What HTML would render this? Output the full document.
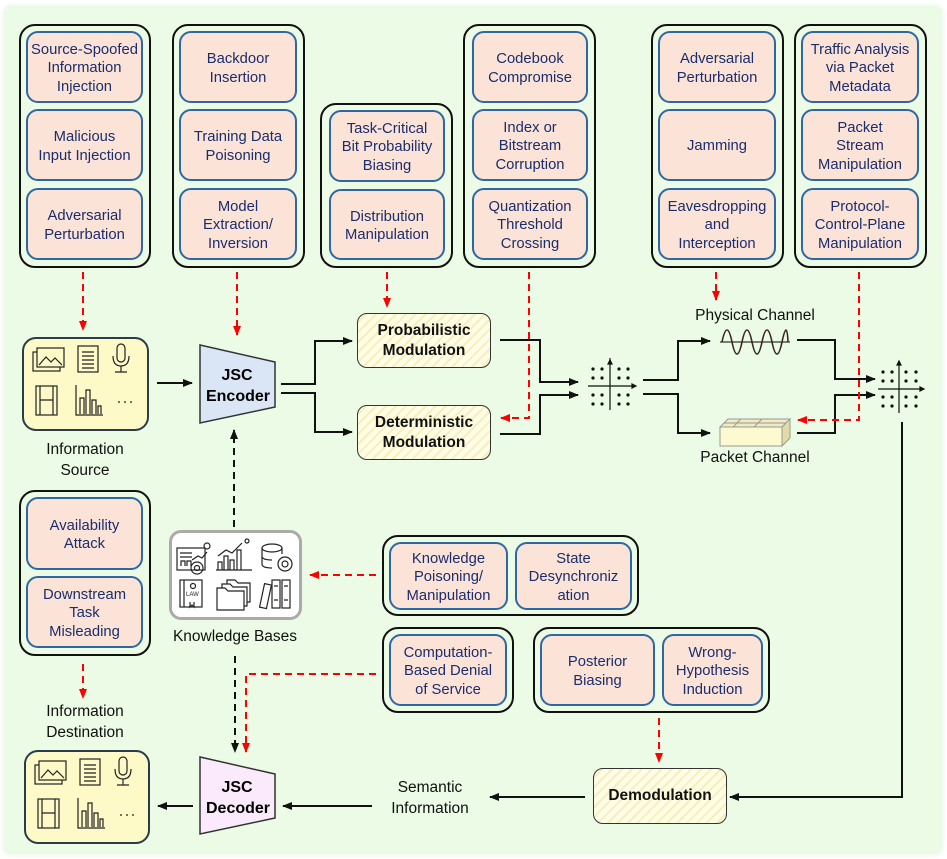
<!DOCTYPE html>
<html><head><meta charset="utf-8"><style>
body{margin:0;width:947px;height:859px;background:#fff;position:relative;overflow:hidden;font-family:"Liberation Sans",sans-serif}
.bg{position:absolute;left:4px;top:6px;width:938px;height:848px;background:#ebfbe5;border-radius:6px;box-shadow:0 0 6px #e4f2de}
.o{position:absolute;border:2.5px solid #111;border-radius:16px;box-sizing:border-box}
.i{position:absolute;border:2.5px solid #2f67a0;border-radius:12px;background:#fbe3d8;box-sizing:border-box;display:flex;align-items:center;justify-content:center;text-align:center;color:#1b2d6b;font-size:14.8px;line-height:18.5px;padding-top:3px}
.m{position:absolute;border:1.5px solid #333;border-radius:10px;box-sizing:border-box;display:flex;align-items:center;justify-content:center;text-align:center;font-weight:bold;font-size:15.5px;line-height:20px;color:#111;background:repeating-linear-gradient(135deg,#fffde8 0 5px,#f6f0b8 5px 7px)}
.l{position:absolute;text-align:center;font-size:15.5px;line-height:20.5px;color:#111}
.y{position:absolute;border:2px solid #2a3b4a;border-radius:14px;background:#fdfac8;box-sizing:border-box}
svg{position:absolute;left:0;top:0}
</style></head><body>
<div class="bg"></div>

<div class="o" style="left:19px;top:24px;width:132px;height:244px"></div>
<div class="i" style="left:26px;top:31px;width:117px;height:72px">Source-Spoofed<br>Information<br>Injection</div>
<div class="i" style="left:26px;top:109px;width:117px;height:72px">Malicious<br>Input Injection</div>
<div class="i" style="left:26px;top:188px;width:117px;height:72px">Adversarial<br>Perturbation</div>

<div class="o" style="left:172px;top:24px;width:133px;height:244px"></div>
<div class="i" style="left:179px;top:31px;width:118px;height:72px">Backdoor<br>Insertion</div>
<div class="i" style="left:179px;top:109px;width:118px;height:72px">Training Data<br>Poisoning</div>
<div class="i" style="left:179px;top:188px;width:118px;height:72px">Model<br>Extraction/<br>Inversion</div>

<div class="o" style="left:320px;top:103px;width:133px;height:165px"></div>
<div class="i" style="left:329px;top:110px;width:116px;height:72px">Task-Critical<br>Bit Probability<br>Biasing</div>
<div class="i" style="left:329px;top:189px;width:116px;height:71px">Distribution<br>Manipulation</div>

<div class="o" style="left:463px;top:24px;width:133px;height:244px"></div>
<div class="i" style="left:472px;top:31px;width:116px;height:72px">Codebook<br>Compromise</div>
<div class="i" style="left:472px;top:109px;width:116px;height:72px">Index or<br>Bitstream<br>Corruption</div>
<div class="i" style="left:472px;top:188px;width:116px;height:72px">Quantization<br>Threshold<br>Crossing</div>

<div class="o" style="left:651px;top:24px;width:133px;height:244px"></div>
<div class="i" style="left:658px;top:31px;width:118px;height:72px">Adversarial<br>Perturbation</div>
<div class="i" style="left:658px;top:109px;width:118px;height:72px">Jamming</div>
<div class="i" style="left:658px;top:188px;width:118px;height:72px">Eavesdropping<br>and<br>Interception</div>

<div class="o" style="left:794px;top:24px;width:133px;height:244px"></div>
<div class="i" style="left:801px;top:31px;width:118px;height:72px">Traffic Analysis<br>via Packet<br>Metadata</div>
<div class="i" style="left:801px;top:109px;width:118px;height:72px">Packet<br>Stream<br>Manipulation</div>
<div class="i" style="left:801px;top:188px;width:118px;height:72px">Protocol-<br>Control-Plane<br>Manipulation</div>

<div class="o" style="left:19px;top:490px;width:132px;height:166px"></div>
<div class="i" style="left:26px;top:497px;width:117px;height:73px">Availability<br>Attack</div>
<div class="i" style="left:26px;top:576px;width:117px;height:72px">Downstream<br>Task<br>Misleading</div>

<div class="o" style="left:382px;top:535px;width:257px;height:81px"></div>
<div class="i" style="left:389px;top:542px;width:119px;height:68px">Knowledge<br>Poisoning/<br>Manipulation</div>
<div class="i" style="left:515px;top:542px;width:117px;height:68px">State<br>Desynchroniz<br>ation</div>

<div class="o" style="left:382px;top:627px;width:132px;height:86px"></div>
<div class="i" style="left:389px;top:634px;width:118px;height:72px">Computation-<br>Based Denial<br>of Service</div>

<div class="o" style="left:533px;top:627px;width:237px;height:86px"></div>
<div class="i" style="left:540px;top:634px;width:115px;height:72px">Posterior<br>Biasing</div>
<div class="i" style="left:662px;top:634px;width:101px;height:72px">Wrong-<br>Hypothesis<br>Induction</div>

<div class="y" style="left:22px;top:337px;width:127px;height:94px"></div>
<div class="y" style="left:24px;top:750px;width:126px;height:94px"></div>
<div style="position:absolute;left:169px;top:530px;width:133px;height:90px;border:3px solid #aaa;border-radius:12px;background:#fff;box-sizing:border-box"></div>

<div class="m" style="left:357px;top:313px;width:134px;height:55px">Probabilistic<br>Modulation</div>
<div class="m" style="left:357px;top:405px;width:134px;height:55px">Deterministic<br>Modulation</div>
<div class="m" style="left:593px;top:768px;width:134px;height:56px">Demodulation</div>

<div class="l" style="left:20px;top:440px;width:130px">Information<br>Source</div>
<div class="l" style="left:20px;top:702px;width:130px">Information<br>Destination</div>
<div class="l" style="left:150px;top:627px;width:170px">Knowledge Bases</div>
<div class="l" style="left:670px;top:306px;width:170px">Physical Channel</div>
<div class="l" style="left:670px;top:448px;width:170px">Packet Channel</div>
<div class="l" style="left:365px;top:778px;width:130px">Semantic<br>Information</div>

<svg width="947" height="859" viewBox="0 0 947 859">
<defs>
<marker id="a" markerWidth="10" markerHeight="8" refX="9" refY="4" orient="auto" markerUnits="userSpaceOnUse"><path d="M0,0L10,4L0,8z" fill="#111"/></marker>
<marker id="r" markerWidth="10" markerHeight="8" refX="9" refY="4" orient="auto" markerUnits="userSpaceOnUse"><path d="M0,0L10,4L0,8z" fill="#f00"/></marker>
</defs>
<polygon points="200,345 275,362 275,407 200,423" fill="#dae6f6" stroke="#333" stroke-width="1.5"/>
<text x="237" y="380" text-anchor="middle" font-weight="bold" font-size="16" font-family="Liberation Sans">JSC</text>
<text x="238" y="401" text-anchor="middle" font-weight="bold" font-size="16" font-family="Liberation Sans">Encoder</text>
<polygon points="200,757 275,774 275,818 200,834" fill="#fbeafb" stroke="#333" stroke-width="1.5"/>
<text x="237" y="792" text-anchor="middle" font-weight="bold" font-size="16" font-family="Liberation Sans">JSC</text>
<text x="238" y="813" text-anchor="middle" font-weight="bold" font-size="16" font-family="Liberation Sans">Decoder</text>

<g fill="none" stroke="#111" stroke-width="2">
<path d="M157,383H192" marker-end="url(#a)"/>
<path d="M281,384H315V341H352" marker-end="url(#a)"/>
<path d="M281,393H315V432H352" marker-end="url(#a)"/>
<path d="M500,340H540V382H578" marker-end="url(#a)"/>
<path d="M500,434H540V395H578" marker-end="url(#a)"/>
<path d="M643,380H678V341H710" marker-end="url(#a)"/>
<path d="M643,394H678V433H710" marker-end="url(#a)"/>
<path d="M797,340H835V379H875" marker-end="url(#a)"/>
<path d="M797,433H835V395H875" marker-end="url(#a)"/>
<path d="M902,422V797H730" marker-end="url(#a)"/>
<path d="M585,797H490" marker-end="url(#a)"/>
<path d="M372,806H283" marker-end="url(#a)"/>
<path d="M193,806H158" marker-end="url(#a)"/>
</g>
<g fill="none" stroke="#111" stroke-width="2" stroke-dasharray="7,5">
<path d="M234,527V430" marker-end="url(#a)"/>
<path d="M235,656V752" marker-end="url(#a)"/>
</g>
<g fill="none" stroke="#f00" stroke-width="2" stroke-dasharray="7,5">
<path d="M83,272V330" marker-end="url(#r)"/>
<path d="M237,272V335" marker-end="url(#r)"/>
<path d="M387,272V307" marker-end="url(#r)"/>
<path d="M529,272V418H501" marker-end="url(#r)"/>
<path d="M716,272V300" marker-end="url(#r)"/>
<path d="M859,272V420H798" marker-end="url(#r)"/>
<path d="M83,664V698" marker-end="url(#r)"/>
<path d="M376,575H310" marker-end="url(#r)"/>
<path d="M376,674H246V752" marker-end="url(#r)"/>
<path d="M659,718V762" marker-end="url(#r)"/>
</g>
<g stroke="#111" stroke-width="1.2" fill="#111">
<path d="M588,386H635M610,358V410"/>
<path d="M610,360l-2,4h4z"/><path d="M636,386l-4,-2v4z"/>
<g stroke="none">
<circle cx="593" cy="369" r="1.6"/><circle cx="602" cy="369" r="1.6"/><circle cx="619" cy="369" r="1.6"/><circle cx="628" cy="369" r="1.6"/>
<circle cx="593" cy="378" r="1.6"/><circle cx="602" cy="378" r="1.6"/><circle cx="619" cy="378" r="1.6"/><circle cx="628" cy="378" r="1.6"/>
<circle cx="593" cy="395" r="1.6"/><circle cx="602" cy="395" r="1.6"/><circle cx="619" cy="395" r="1.6"/><circle cx="628" cy="395" r="1.6"/>
<circle cx="593" cy="404" r="1.6"/><circle cx="602" cy="404" r="1.6"/><circle cx="619" cy="404" r="1.6"/><circle cx="628" cy="404" r="1.6"/>
</g>
<path d="M878,389H923M899,361V413" fill="none"/>
<path d="M899,361l-2,4h4z"/><path d="M924,389l-4,-2v4z"/>
<g stroke="none">
<circle cx="883" cy="372" r="1.6"/><circle cx="892" cy="372" r="1.6"/><circle cx="906" cy="372" r="1.6"/><circle cx="916" cy="372" r="1.6"/>
<circle cx="883" cy="381" r="1.6"/><circle cx="892" cy="381" r="1.6"/><circle cx="906" cy="381" r="1.6"/><circle cx="916" cy="381" r="1.6"/>
<circle cx="883" cy="397" r="1.6"/><circle cx="892" cy="397" r="1.6"/><circle cx="906" cy="397" r="1.6"/><circle cx="916" cy="397" r="1.6"/>
<circle cx="883" cy="406" r="1.6"/><circle cx="892" cy="406" r="1.6"/><circle cx="906" cy="406" r="1.6"/><circle cx="916" cy="406" r="1.6"/>
</g>
</g>
<path d="M720,342H790" stroke="#333" stroke-width="1.3"/>
<path d="M722,342 Q727,318 732,342 T742,342 T752,342 T762,342 T772,342 T782,342 T788,342" fill="none" stroke="#3a2a20" stroke-width="1.6"/>
<polygon points="720,427 728,419 790,419 782,427" fill="#f0ecc0" stroke="#999"/>
<polygon points="782,427 790,419 790,438 782,446" fill="#e0dca8" stroke="#999"/>
<rect x="720" y="427" width="62" height="19" fill="#fdfad0" stroke="#999"/>
<path d="M741,419L733,427M762,419L754,427M724,423H786" stroke="#999" fill="none"/>
<g id="ic" fill="none" stroke="#222" stroke-width="1.2">
<rect x="33" y="352" width="27" height="19"/><rect x="37" y="348" width="27" height="19" fill="#fdfac8"/>
<path d="M39,365l7,-8 5,5 4,-4 7,7"/><rect x="78" y="346" width="20" height="26"/>
<path d="M82,352h12M82,356h12M82,360h12M82,364h12M82,368h12"/>
<rect x="117" y="344" width="8" height="18" rx="4"/><path d="M113,356q0,10 8,10q8,0 8,-10M121,366v6M115,372h12"/>
<rect x="36" y="386" width="21" height="29"/><path d="M40,386v29M53,386v29M40,400h13"/>
<path d="M76,385v30h27M80,414v-16h4v16M86,414v-24h4v24M92,414v-14h4v14M98,414v-8h3v8"/>
<path d="M118,402h2M124,402h2M130,402h2"/>
</g>
<use href="#ic" x="2" y="413"/>
<g fill="none" stroke="#222" stroke-width="1.2">
<rect x="177" y="548" width="28" height="22"/><path d="M180,553h12M180,557h12M181,566v-5h4v5M187,566v-5h4v5"/><circle cx="197" cy="568" r="6"/><circle cx="197" cy="568" r="2.5"/><path d="M192,560l6,-4 4,2 5,-6"/><circle cx="207" cy="546" r="3"/>
<path d="M218,570v-8h4v8M224,570v-14h4v14M230,570v-10h4v10M237,570v-20h4v20M216,570h36M218,556l8,-6 6,3 10,-10"/><circle cx="247" cy="541" r="2"/>
<ellipse cx="272" cy="548" rx="10" ry="4"/><path d="M262,548v16q0,4 10,4M282,548v6M262,556q0,4 10,4"/><circle cx="285" cy="564" r="7"/><circle cx="285" cy="564" r="3"/>
<rect x="180" y="580" width="22" height="27"/><path d="M184,580v27M190,602v5l2,-2 2,2v-5"/><circle cx="193" cy="586" r="2.5"/><text x="186" y="596" font-size="6" fill="#222" stroke="none" font-family="Liberation Sans">LAW</text>
<path d="M217,610v-22h8l3,3h16v19zM222,588v-4h8l3,3h14v19h-3M227,584v-4h8l3,3h12v19h-3"/>
<rect x="262" y="584" width="7" height="24" transform="rotate(12 265 596)"/><rect x="272" y="580" width="8" height="28"/><rect x="282" y="580" width="8" height="28"/>
<path d="M274,586h4M284,586h4M274,600h4M284,600h4"/>
</g>
</svg>
</body></html>
